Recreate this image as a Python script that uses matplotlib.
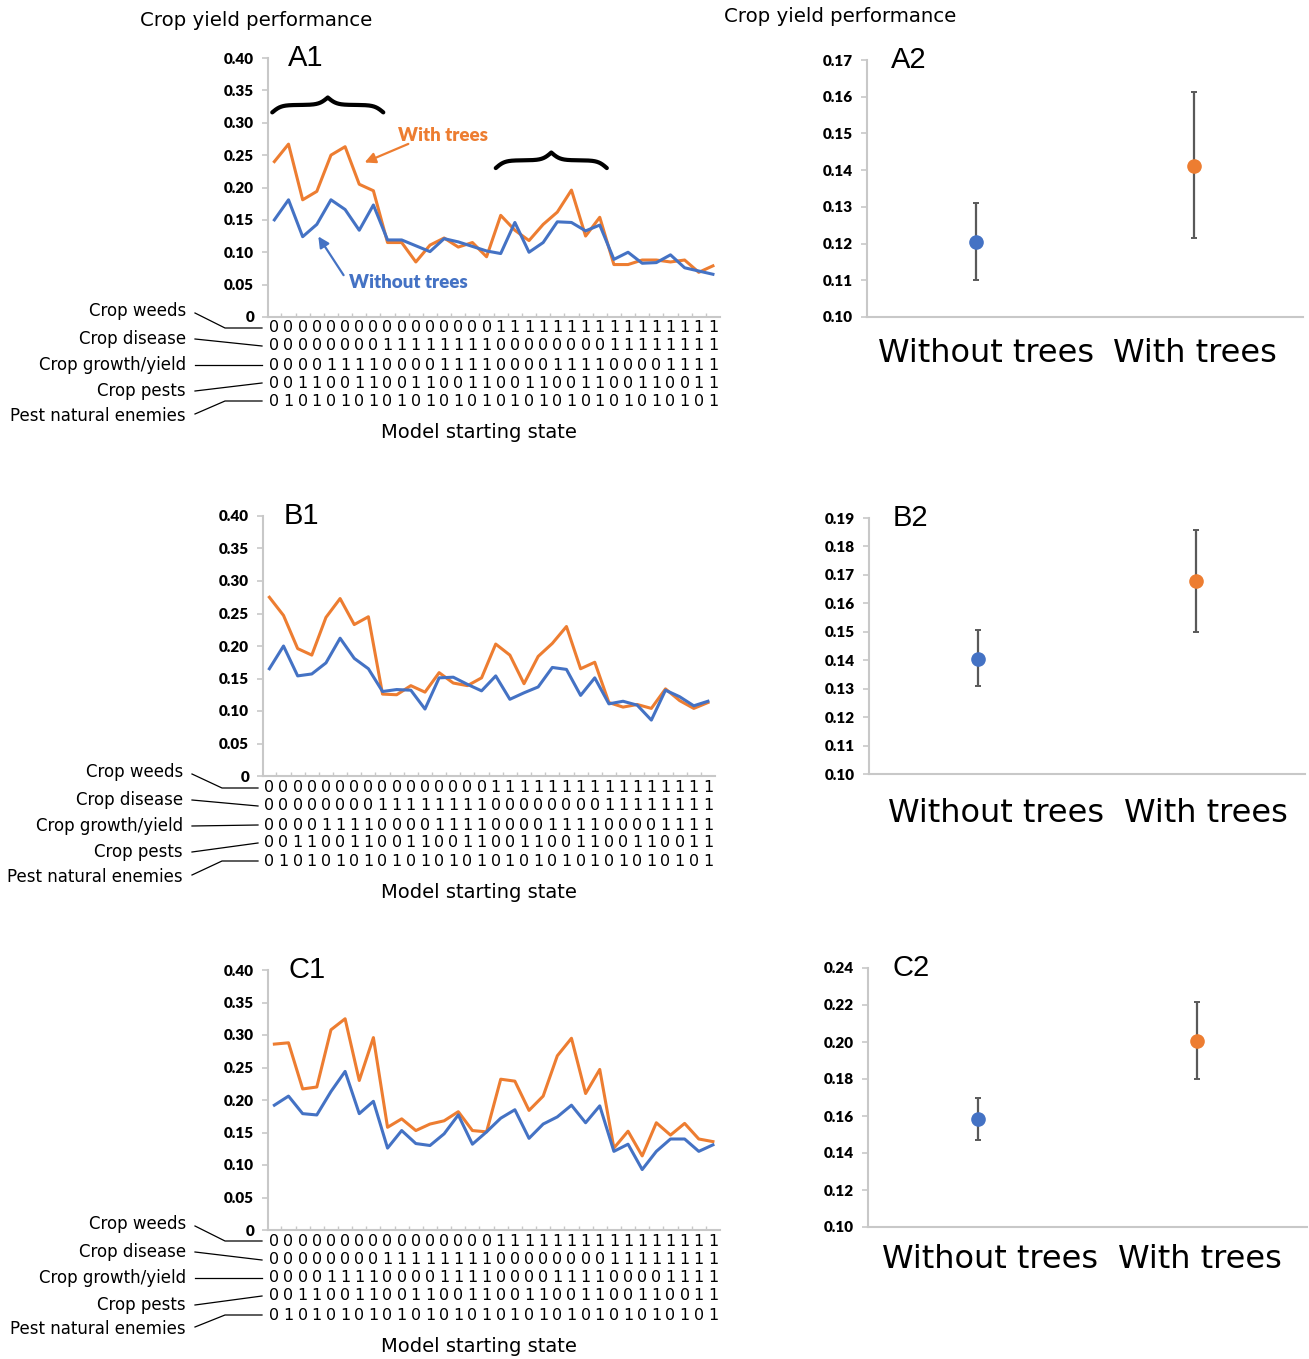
import numpy as np
import matplotlib
matplotlib.use("Agg")
import matplotlib.pyplot as plt
from matplotlib.lines import Line2D
from matplotlib.transforms import blended_transform_factory

# ---------------- data ----------------
a1_without = [0.150, 0.181, 0.124, 0.143, 0.181, 0.166, 0.134, 0.173, 0.119, 0.119, 0.110, 0.101,
              0.121, 0.116, 0.109, 0.102, 0.098, 0.146, 0.100, 0.115, 0.147, 0.146, 0.133, 0.142,
              0.089, 0.100, 0.083, 0.084, 0.096, 0.076, 0.071, 0.066]
a1_with = [0.240, 0.267, 0.181, 0.194, 0.250, 0.263, 0.205, 0.195, 0.115, 0.115, 0.085, 0.111,
           0.122, 0.108, 0.115, 0.093, 0.157, 0.134, 0.118, 0.143, 0.162, 0.196, 0.125, 0.154,
           0.081, 0.081, 0.088, 0.088, 0.085, 0.088, 0.069, 0.079]
b1_without = [0.165, 0.200, 0.154, 0.157, 0.174, 0.212, 0.181, 0.165, 0.130, 0.133, 0.132, 0.103,
              0.151, 0.152, 0.141, 0.131, 0.154, 0.118, 0.128, 0.137, 0.167, 0.164, 0.124, 0.151,
              0.111, 0.115, 0.109, 0.086, 0.132, 0.122, 0.108, 0.115]
b1_with = [0.275, 0.247, 0.196, 0.186, 0.244, 0.273, 0.233, 0.245, 0.126, 0.125, 0.139, 0.129,
           0.159, 0.143, 0.139, 0.151, 0.203, 0.186, 0.142, 0.184, 0.204, 0.230, 0.165, 0.175,
           0.113, 0.106, 0.110, 0.104, 0.134, 0.116, 0.104, 0.113]
c1_without = [0.192, 0.206, 0.179, 0.177, 0.213, 0.244, 0.179, 0.198, 0.126, 0.153, 0.133, 0.130,
              0.148, 0.177, 0.132, 0.151, 0.172, 0.185, 0.141, 0.163, 0.174, 0.192, 0.165, 0.191,
              0.121, 0.132, 0.093, 0.121, 0.140, 0.140, 0.121, 0.131]
c1_with = [0.286, 0.288, 0.217, 0.220, 0.308, 0.325, 0.230, 0.296, 0.158, 0.171, 0.153, 0.163,
           0.168, 0.182, 0.153, 0.151, 0.232, 0.229, 0.184, 0.206, 0.268, 0.295, 0.210, 0.247,
           0.126, 0.152, 0.114, 0.165, 0.146, 0.164, 0.140, 0.136]

# model starting state rows (one string per factor)
factor_names = ["Crop weeds", "Crop disease", "Crop growth/yield", "Crop pests", "Pest natural enemies"]
factor_states = ["00000000000000001111111111111111",
                 "00000000111111110000000011111111",
                 "00001111000011110000111100001111",
                 "00110011001100110011001100110011",
                 "01010101010101010101010101010101"]

group_labels = ["Without trees", "With trees"]
a2_mean = [0.1205, 0.1412]
a2_low = [0.1102, 0.1214]
a2_high = [0.1311, 0.1612]
b2_mean = [0.1406, 0.1679]
b2_low = [0.1310, 0.1500]
b2_high = [0.1507, 0.1859]
c2_mean = [0.1582, 0.2006]
c2_low = [0.1468, 0.1800]
c2_high = [0.1695, 0.2214]

BLUE = "#4472C4"
ORANGE = "#ED7D31"
SPINE = "#c8c8c8"
W, H = 1309, 1359

fig = plt.figure(figsize=(W / 100, H / 100), dpi=100)


def fx(x):
    return x / W


def fy(y):
    return 1 - y / H


def px_axes(l, t, r, b):
    return fig.add_axes([fx(l), fy(b), (r - l) / W, (b - t) / H])


def style_axes(ax):
    for s in ["top", "right"]:
        ax.spines[s].set_visible(False)
    for s in ["left", "bottom"]:
        ax.spines[s].set_color(SPINE)
        ax.spines[s].set_linewidth(1.5)
    ax.tick_params(axis="y", length=4, color=SPINE, width=1.2, pad=6)
    for lab in ax.get_yticklabels():
        lab.set_fontfamily("Lato")
        lab.set_fontweight("heavy")
        lab.set_fontsize(11)


def draw_brace(ax, x0, x1, y_end, y_tip, lw=3):
    # curly brace opening downwards, tip pointing up
    xm = (x0 + x1) / 2
    beta = 3.2
    left = np.linspace(x0, xm, 250)
    yl = 1 / (1 + np.exp(-beta * (left - x0))) + 1 / (1 + np.exp(-beta * (left - xm)))
    yl = yl - 0.5
    ys = np.concatenate([yl, yl[::-1][1:]])
    xx = np.concatenate([left, (x0 + x1 - left[::-1])[1:]])
    ys = y_end + (y_tip - y_end) * (ys / ys.max())
    ax.plot(xx, ys, color="black", lw=lw, solid_capstyle="round", clip_on=False)


def line_panel(rect, without, with_, letter, rows_y, labels_y, label_right, line_x0, line_x1, xlabel_y):
    ax = px_axes(*rect)
    x = np.arange(len(without))
    ax.plot(x, with_, color=ORANGE, lw=2.2)
    ax.plot(x, without, color=BLUE, lw=2.2)
    ax.set_xlim(-0.45, len(without) - 0.5)
    ax.set_ylim(0, 0.40)
    ax.set_yticks(np.arange(0, 0.401, 0.05))
    ax.set_yticklabels(["0"] + ["%.2f" % v for v in np.arange(0.05, 0.401, 0.05)])
    ax.set_xticks(np.arange(len(without) - 1) + 0.5)
    ax.set_xticklabels([])
    ax.tick_params(axis="x", direction="in", length=3, color=SPINE, width=1)
    style_axes(ax)
    ax.text(0.045, 1.0, letter, transform=ax.transAxes, fontsize=21,
            family="Liberation Sans", va="center", ha="left")
    # starting-state digits
    tr = blended_transform_factory(ax.transData, fig.transFigure)
    for row, yy in zip(factor_states, rows_y):
        for i, ch in enumerate(row):
            ax.text(i, fy(yy), ch, transform=tr, ha="center", va="center",
                    fontsize=11.5, family="DejaVu Sans", clip_on=False)
    # factor labels and connectors
    for k, (name, ly, ry) in enumerate(zip(factor_names, labels_y, rows_y)):
        fig.text(fx(label_right), fy(ly), name, ha="right", va="center", fontsize=12,
                 family="DejaVu Sans")
        if k == 0:
            xs_, ys_ = [line_x0, line_x0 + 30, line_x1], [ly + 2, ry, ry]
        elif k == 4:
            xs_, ys_ = [line_x0, line_x0 + 30, line_x1], [ly - 2, ry, ry]
        else:
            xs_, ys_ = [line_x0, line_x1], [ly, ry]
        fig.add_artist(Line2D([fx(v) for v in xs_], [fy(v) for v in ys_],
                              color="black", lw=0.9, transform=fig.transFigure))
    fig.text(fx(479), fy(xlabel_y), "Model starting state", ha="center", va="center",
             fontsize=14, family="DejaVu Sans")
    return ax


def error_panel(rect, mean, low, high, ymax, ystep, letter, label_x, label_y):
    ax = px_axes(*rect)
    xs = np.arange(len(mean))
    for i, c in zip(xs, [BLUE, ORANGE]):
        ax.errorbar(i, mean[i], yerr=[[mean[i] - low[i]], [high[i] - mean[i]]],
                    fmt="o", color=c, ms=9.5, ecolor="#595959", elinewidth=1.6,
                    capsize=2.5, capthick=1.4, zorder=3)
    ax.set_xlim(-0.5, 1.5)
    ax.set_ylim(0.10, ymax)
    ticks = np.arange(0.10, ymax + 1e-9, ystep)
    ax.set_yticks(ticks)
    ax.set_yticklabels(["%.2f" % v for v in ticks])
    ax.set_xticks([])
    style_axes(ax)
    for lab, lx in zip(group_labels, label_x):
        fig.text(fx(lx), fy(label_y), lab, ha="center", va="center", fontsize=23,
                 family="DejaVu Sans")
    ax.text(0.055, 1.0, letter, transform=ax.transAxes, fontsize=21,
            family="Liberation Sans", va="center", ha="left")
    return ax


fig.text(fx(140), fy(21), "Crop yield performance", ha="left", va="center", fontsize=14.2,
         family="DejaVu Sans")
fig.text(fx(724), fy(16), "Crop yield performance", ha="left", va="center", fontsize=14.2,
         family="DejaVu Sans")

axA = line_panel((268, 58, 720, 317), a1_without, a1_with, "A1",
                 [328, 346, 365, 383, 401], [311, 339, 365, 391, 416], 186, 195, 262, 432)
axB = line_panel((263, 516, 715, 776), b1_without, b1_with, "B1",
                 [788, 806, 825, 843, 861], [772, 800, 826, 852, 877], 183, 192, 258, 892)
axC = line_panel((268, 970, 720, 1230), c1_without, c1_with, "C1",
                 [1241, 1260, 1278, 1296, 1315], [1224, 1252, 1278, 1305, 1329], 186, 195, 262, 1346)

# annotations on A1
draw_brace(axA, -0.15, 7.7, 0.316, 0.339)
draw_brace(axA, 15.65, 23.5, 0.230, 0.254)
axA.text(11.9, 0.281, "With trees", color=ORANGE, fontsize=13.5, family="Lato",
         fontweight="heavy", ha="center", va="center")
axA.annotate("", xy=(6.2, 0.237), xytext=(9.65, 0.269),
             arrowprops=dict(arrowstyle="-|>", color=ORANGE, lw=1.6, mutation_scale=16))
axA.text(5.3, 0.054, "Without trees", color=BLUE, fontsize=13.5, family="Lato",
         fontweight="heavy", ha="left", va="center")
axA.annotate("", xy=(3.0, 0.128), xytext=(5.0, 0.061),
             arrowprops=dict(arrowstyle="-|>", color=BLUE, lw=1.6, mutation_scale=16))

error_panel((867, 60, 1303, 317), a2_mean, a2_low, a2_high, 0.17, 0.01, "A2", (986, 1195), 353)
error_panel((869, 518, 1305, 774), b2_mean, b2_low, b2_high, 0.19, 0.01, "B2", (996, 1206), 814)
error_panel((868, 968, 1307, 1227), c2_mean, c2_low, c2_high, 0.24, 0.02, "C2", (990, 1200), 1259)

fig.savefig("out.png", dpi=100, facecolor="white")
